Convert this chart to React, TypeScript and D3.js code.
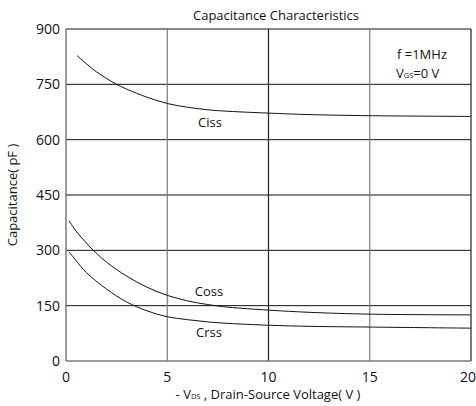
import React from 'react';
import * as d3 from 'd3';

// Values
const cissV = [0.55, 1, 1.5, 2, 2.5, 3, 4, 5, 6, 7, 8, 10, 12, 15, 20];
const cissC = [828, 806, 784, 766, 750, 737, 715, 698, 688, 681, 677, 672, 668, 665, 663];

const cossV = [0.15, 0.5, 1, 1.35, 2, 3, 4, 5, 6, 7, 8, 10, 12, 15, 20];
const cossC = [380, 352, 320, 300, 268, 230, 200, 178, 163, 153, 146, 138, 132, 127, 125];

const crssV = [0.15, 0.5, 1, 2, 3, 4, 5, 6, 7, 8, 10, 12, 15, 20];
const crssC = [296, 272, 240, 195, 160, 136, 120, 112, 106, 102, 97, 94, 92, 89];

const xTicks = [0, 5, 10, 15, 20];
const yTicks = [0, 150, 300, 450, 600, 750, 900];

const font = '"Open Sans", "Noto Sans", sans-serif';

const App: React.FC = () => {
  const width = 476;
  const height = 406;
  const margin = { left: 66, right: 5, top: 29, bottom: 45 };

  const x = d3.scaleLinear().domain([0, 20]).range([margin.left, width - margin.right]);
  const y = d3.scaleLinear().domain([0, 900]).range([height - margin.bottom, margin.top]);

  const line = d3.line<[number, number]>()
    .x(d => x(d[0]))
    .y(d => y(d[1]))
    .curve(d3.curveCatmullRom.alpha(0.5));

  const series = [
    { v: cissV, c: cissC },
    { v: cossV, c: cossC },
    { v: crssV, c: crssC },
  ];

  // vertical grid lines alternate between grey and black in the reference
  const vColor = (t: number) => (t === 5 || t === 15 ? '#7a7a7a' : '#222');

  return (
    <svg width={width} height={height} style={{ position: 'absolute', left: 0, top: 0, background: '#fff' }}>
      {/* horizontal grid */}
      {yTicks.filter(t => t > 0).map(t => (
        <line key={'h' + t} x1={x(0)} x2={x(20)} y1={y(t)} y2={y(t)} stroke="#111" strokeWidth={1} />
      ))}
      {/* vertical grid */}
      {xTicks.filter(t => t > 0).map(t => (
        <line key={'v' + t} x1={x(t)} x2={x(t)} y1={y(0)} y2={y(900)} stroke={vColor(t)} strokeWidth={1.2} />
      ))}
      {/* axes */}
      <line x1={x(0)} x2={x(0)} y1={y(0)} y2={y(900)} stroke="#7a7a7a" strokeWidth={1.5} />
      <line x1={x(0)} x2={x(20)} y1={y(0)} y2={y(0)} stroke="#7a7a7a" strokeWidth={1.5} />

      {/* curves */}
      {series.map((s, i) => (
        <path key={i} d={line(s.v.map((v, j) => [v, s.c[j]] as [number, number]))!}
          fill="none" stroke="#111" strokeWidth={1} />
      ))}

      {/* tick labels */}
      {yTicks.map(t => (
        <text key={'yl' + t} x={60} y={y(t)} dy="0.35em" textAnchor="end"
          fontFamily={font} fontSize={14} fill="#111">{t}</text>
      ))}
      {xTicks.map((t, i) => (
        <text key={'xl' + t} x={i === xTicks.length - 1 ? width : x(t)} y={382}
          textAnchor={i === xTicks.length - 1 ? 'end' : 'middle'}
          fontFamily={font} fontSize={14} fill="#111">{t}</text>
      ))}

      {/* curve labels */}
      <text x={210} y={127} textAnchor="middle" fontFamily={font} fontSize={13} fill="#111">Ciss</text>
      <text x={209} y={296} textAnchor="middle" fontFamily={font} fontSize={13} fill="#111">Coss</text>
      <text x={209} y={337} textAnchor="middle" fontFamily={font} fontSize={13} fill="#111">Crss</text>

      {/* conditions */}
      <text x={397} y={59} fontFamily={font} fontSize={13} fill="#111">f =1MHz</text>
      <text x={396} y={78} fontFamily={font} fontSize={13} fill="#111">
        V<tspan fontSize={7.5}>GS</tspan>=0 V
      </text>

      {/* title */}
      <text x={276} y={20} textAnchor="middle" fontFamily={font} fontSize={13} fill="#111">
        Capacitance Characteristics
      </text>

      {/* axis titles */}
      <text x={268} y={399} textAnchor="middle" fontFamily={font} fontSize={13} fill="#111">
        - V<tspan fontSize={7.5}>DS</tspan> , Drain-Source Voltage( V )
      </text>
      <text transform={`translate(17,${y(450)}) rotate(-90)`} textAnchor="middle"
        fontFamily={font} fontSize={13} fill="#111">Capacitance( pF )</text>
    </svg>
  );
};

export default App;
